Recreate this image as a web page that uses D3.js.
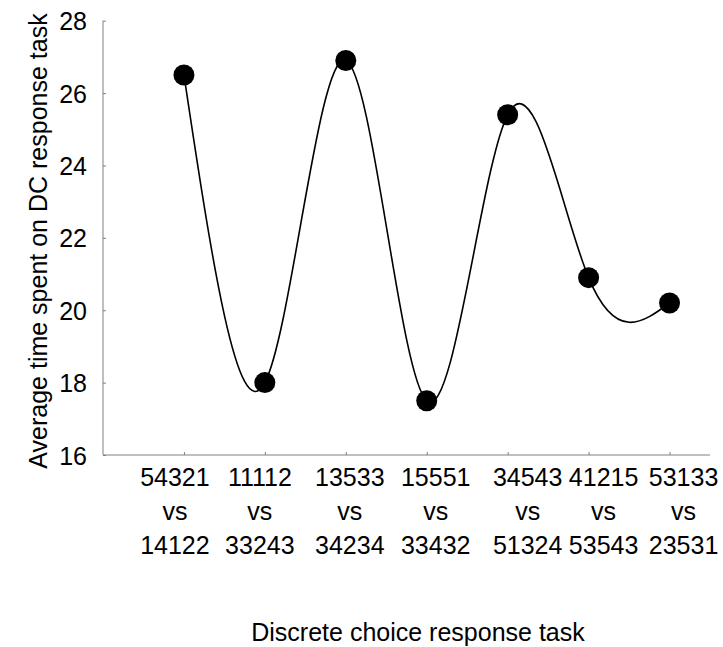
<!DOCTYPE html>
<html>
<head>
<meta charset="utf-8">
<script src="https://cdn.jsdelivr.net/npm/d3@7"></script>
<style>
  body { margin: 0; background: #fff; }
  text { font-family: "Liberation Sans", Arial, sans-serif; fill: #000; }
</style>
</head>
<body>
<div id="chart"></div>
<script>
// Data
var tasks = [
  ["54321", "vs", "14122"],
  ["11112", "vs", "33243"],
  ["13533", "vs", "34234"],
  ["15551", "vs", "33432"],
  ["34543", "vs", "51324"],
  ["41215", "vs", "53543"],
  ["53133", "vs", "23531"]
];
var avgTime = [26.5, 18.0, 26.9, 17.5, 25.4, 20.9, 20.2];
var yTicks = [16, 18, 20, 22, 24, 26, 28];
var xTitle = "Discrete choice response task";
var yTitle = "Average time spent on DC response task";

// the labels in the original are not quite centred on their ticks
var labelNudge = [-9, -5, 4, 9, 20, 15, 14];

var W = 723, H = 647;
var pLeft = 103, pRight = 710, pTop = 20.7, pBottom = 455;
var fs = 25;

var svg = d3.select("#chart").append("svg")
    .attr("width", W)
    .attr("height", H);

var x = d3.scaleLinear().domain([0, 7.5]).range([pLeft, pRight]);
var y = d3.scaleLinear().domain([16, 28]).range([pBottom, pTop]);

// y axis
var yAxis = d3.axisLeft(y).tickValues(yTicks).tickSize(-3).tickPadding(16)
    .tickFormat(d3.format("d"));
var gy = svg.append("g")
    .attr("transform", "translate(" + pLeft + ",0)")
    .call(yAxis);
gy.select(".domain").attr("stroke", "#808080").attr("d", "M0," + pTop + "V" + pBottom);
gy.selectAll(".tick line").attr("stroke", "#808080");
gy.selectAll(".tick text")
    .attr("font-size", fs)
    .attr("font-family", "Liberation Sans, Arial, sans-serif")
    .attr("fill", "#000")
    .attr("dy", "0.36em");

// x axis (line + small inside ticks, labels drawn below by hand)
var idx = d3.range(1, tasks.length + 1);
var xAxis = d3.axisBottom(x).tickValues(idx).tickSize(-3).tickFormat("");
var gx = svg.append("g")
    .attr("transform", "translate(0," + pBottom + ")")
    .call(xAxis);
gx.select(".domain").attr("stroke", "#808080").attr("d", "M" + pLeft + ",0H" + pRight);
gx.selectAll(".tick line").attr("stroke", "#808080");

var lab = svg.append("g").selectAll("text")
    .data(tasks)
    .enter()
    .append("text")
    .attr("text-anchor", "middle")
    .attr("font-size", fs);
lab.each(function(t, i) {
  var el = d3.select(this);
  var cx = x(i + 1) + labelNudge[i];
  t.forEach(function(s, j) {
    el.append("tspan")
      .attr("x", cx)
      .attr("y", 486 + j * 34)
      .text(s);
  });
});

// axis titles
svg.append("text")
    .attr("x", 418)
    .attr("y", 641)
    .attr("text-anchor", "middle")
    .attr("font-size", fs)
    .text(xTitle);

svg.append("text")
    .attr("transform", "translate(47,241) rotate(-90)")
    .attr("text-anchor", "middle")
    .attr("font-size", fs)
    .text(yTitle);

// smooth line through the points
var pts = avgTime.map(function(v, i) { return [i + 1, v]; });
var line = d3.line()
    .x(function(d) { return x(d[0]); })
    .y(function(d) { return y(d[1]); })
    .curve(d3.curveNatural);

svg.append("path")
    .datum(pts)
    .attr("d", line)
    .attr("fill", "none")
    .attr("stroke", "#000")
    .attr("stroke-width", 1.6);

svg.append("g").selectAll("circle")
    .data(pts)
    .enter()
    .append("circle")
    .attr("cx", function(d) { return x(d[0]); })
    .attr("cy", function(d) { return y(d[1]); })
    .attr("r", 10.5)
    .attr("fill", "#000");
</script>
</body>
</html>
